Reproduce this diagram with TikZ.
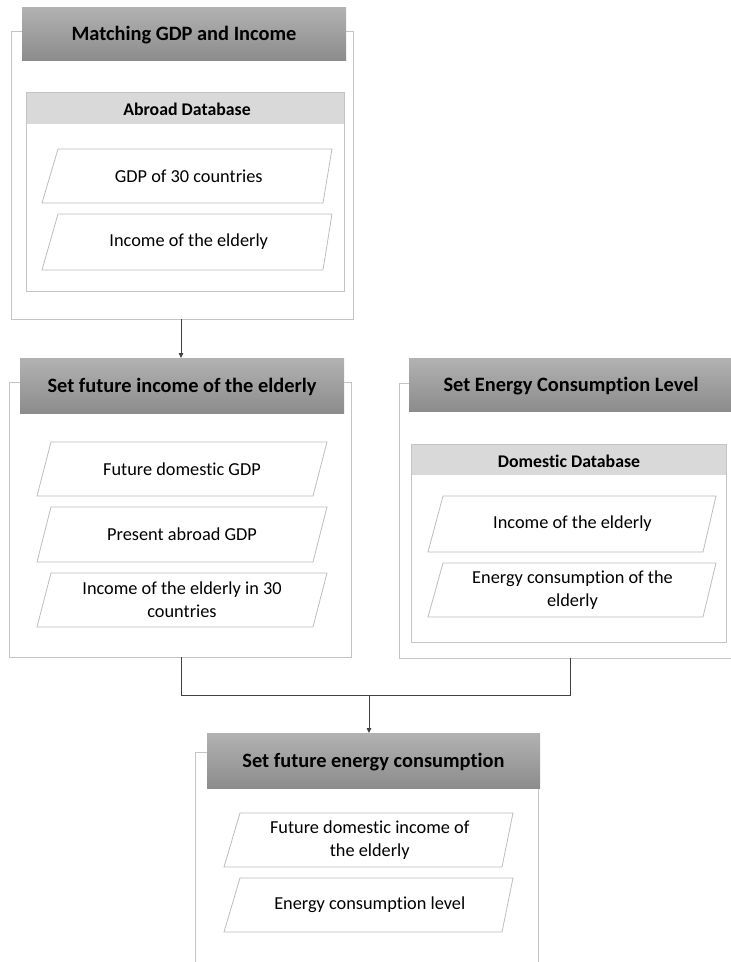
\documentclass[tikz,border=0pt]{standalone}
\usepackage{fontspec}
\setmainfont[Ligatures=NoCommon]{Carlito}
\usetikzlibrary{arrows.meta}
\definecolor{boxline}{HTML}{C4C4C4}
\definecolor{pgline}{HTML}{BDBDBD}
\definecolor{dbfill}{HTML}{D9D9D9}
\definecolor{hdtop}{HTML}{B2B2B2}
\definecolor{hdbot}{HTML}{8C8C8C}
\definecolor{conn}{HTML}{404040}
\tikzset{
  outerbox/.style={draw=boxline, line width=0.9pt, fill=white},
  headbox/.style={draw=none, top color=hdtop, bottom color=hdbot},
  headtext/.style={font=\fontsize{20.4}{22}\selectfont\bfseries, text=black, inner sep=0pt},
  dbbox/.style={draw=boxline, line width=0.9pt, fill=white},
  dbhead/.style={fill=dbfill, draw=none},
  dbtext/.style={font=\fontsize{17.8}{20}\selectfont\bfseries, text=black, inner sep=0pt},
  pg/.style={draw=pgline, line width=0.8pt, fill=white},
  ptext/.style={font=\fontsize{18.3}{23}\selectfont, text=black, align=center, inner sep=0pt},
  connector/.style={draw=conn, line width=0.8pt},
  arrowed/.style={connector, -{Triangle[length=5pt,width=4.5pt]}}
}
% name, x bottom-left, x top-left, x top-right, x bottom-right, y top, y bottom, text
\newcommand{\pgram}[8]{%
  \draw[pg] (#3,#6) -- (#4,#6) -- (#5,#7) -- (#2,#7) -- cycle;
  \node[ptext] (#1) at ({(#2+#3+#4+#5)/4},{(#6+#7)/2}) {#8};}
\begin{document}
\begin{tikzpicture}[x=1pt,y=-1pt]
\useasboundingbox (0,0) rectangle (731,962);
\begin{scope}
\clip (0,0) rectangle (731,962);
% ---------- Box 1 ----------
\draw[outerbox] (11,31) rectangle (353,319);
\shade[headbox] (22,7) rectangle (346,60);
\node[headtext] (h1) at (184,35) {Matching GDP and Income};
\draw[dbbox] (26,92) rectangle (344,291);
\fill[dbhead] (26.5,92.5) rectangle (343.5,124);
\node[dbtext] (db1) at (187,109) {Abroad Database};
\pgram{p11}{42}{58}{332}{323}{149}{203}{GDP of 30 countries}
\pgram{p12}{42}{58}{332}{323}{214}{270}{Income of the elderly}
\coordinate (b1) at (181,319);
% ---------- Box 2 (left middle) ----------
\draw[outerbox] (9,382) rectangle (351,657);
\shade[headbox] (20,358) rectangle (344,413);
\node[headtext] (h2) at (182,387) {Set future income of the elderly};
\coordinate (t2) at (181,358);
\pgram{p21}{37}{51}{327}{313}{442}{496}{Future domestic GDP}
\pgram{p22}{37}{51}{327}{313}{507}{562}{Present abroad GDP}
\pgram{p23}{37}{51}{327}{313}{573}{627}{Income of the elderly in 30\\countries}
\coordinate (b2) at (181,657);
% ---------- Box 3 (right middle) ----------
\draw[outerbox] (399,383) rectangle (760,658);
\shade[headbox] (409,358) rectangle (745,411);
\node[headtext] (h3) at (571,386) {Set Energy Consumption Level};
\draw[dbbox] (411,444) rectangle (726,642);
\fill[dbhead] (411.5,444.5) rectangle (725.5,475);
\node[dbtext] (db3) at (569,461) {Domestic Database};
\pgram{p31}{428}{443}{716}{703}{496}{552}{Income of the elderly}
\pgram{p32}{428}{443}{716}{703}{563}{617}{Energy consumption of the\\elderly}
\coordinate (b3) at (570,658);
% ---------- Box 4 (bottom) ----------
\draw[outerbox] (195,752) rectangle (538,990);
\shade[headbox] (207,733) rectangle (540,788);
\node[headtext] (h4) at (373.5,762) {Set future energy consumption};
\coordinate (t4) at (369,733);
\pgram{p41}{224}{240}{513}{502}{813}{867}{Future domestic income of\\the elderly}
\pgram{p42}{224}{240}{513}{502}{878}{932}{Energy consumption level}
% ---------- connectors ----------
\coordinate (j) at (369,695);
\draw[arrowed] (b1) -- (t2);
\draw[connector] (b2) |- (j);
\draw[connector] (b3) |- (j);
\draw[arrowed] (j) -- (t4);
\end{scope}
\end{tikzpicture}
\end{document}
